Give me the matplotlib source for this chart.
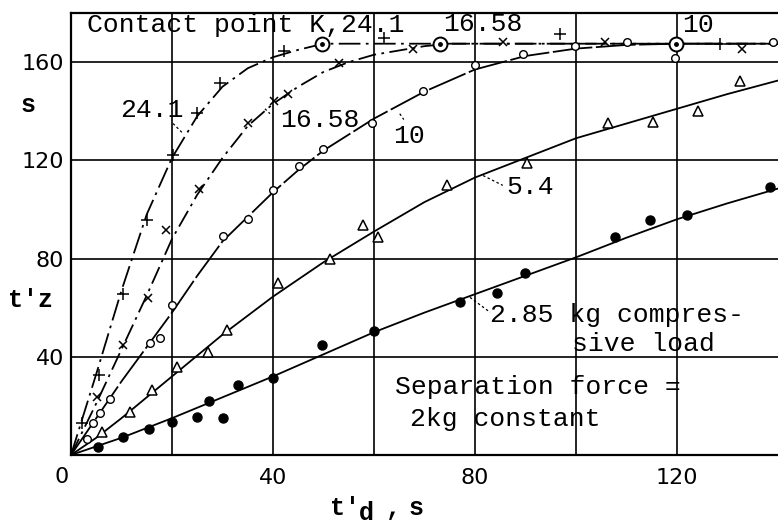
import matplotlib
matplotlib.use("Agg")
import matplotlib.pyplot as plt

plus_x = [2.2, 5.5, 10.3, 15.0, 20.2, 25.0, 29.5, 42.2, 62.0, 96.8, 128.5]
plus_y = [13, 32.5, 65.4, 95.5, 122, 139.4, 151.6, 164.6, 170, 171.5, 167.5]

cross_x = [5.1, 10.3, 15.2, 18.8, 25.3, 35.0, 40.2, 43.0, 53.0, 67.7, 85.5, 105.7, 132.9]
cross_y = [23.6, 44.7, 63.8, 91.5, 108.5, 135.4, 144.3, 147.2, 159.8, 165.4, 168.0, 168.3, 165.4]

circ_x = [3.2, 4.4, 5.7, 7.7, 15.6, 17.6, 20.0, 30.0, 35.0, 40.0, 45.1, 49.9, 59.6,
          69.7, 80.0, 89.5, 99.8, 110.0, 119.6, 139.0]
circ_y = [6.5, 13, 17, 23, 45.5, 47.6, 61, 89, 96.3, 108, 117.5, 124.8, 135.4,
          148.4, 159, 163.4, 166.7, 168, 161.8, 168]

tri_x = [6.1, 11.7, 16.0, 21.0, 27.1, 30.9, 41.0, 51.3, 57.8, 60.8, 74.5, 90.3, 106.3, 115.2, 124.2, 132.5]
tri_y = [9.3, 17.5, 26.4, 35.8, 41.9, 50.8, 69.9, 80.0, 93.5, 88.6, 109.8, 119.1, 135.4, 135.8, 140.2, 152.4]

dot_x = [5.3, 10.3, 15.4, 20.0, 24.9, 27.3, 30.1, 33.0, 40.0, 49.7, 60.0, 77.0, 84.3, 89.9,
         107.7, 114.7, 122.0, 138.4]
dot_y = [3.3, 7.3, 10.6, 13.4, 15.4, 22.0, 15.0, 28.5, 31.3, 44.7, 50.4, 62.2, 65.9, 74.0,
         88.6, 95.9, 97.6, 109.0]

# contact points K
k_x = [49.7, 73.0, 119.8]
k_y = [167.5, 167.5, 167.5]

# faired curves
c241_x = [0, 5, 10, 15, 20, 25, 30, 35, 40, 45, 50, 140]
c241_y = [0, 33, 67, 98, 121, 138, 150, 157.5, 162, 165, 167.5, 167.5]

c1658_x = [0, 5, 10, 15, 20, 25, 30, 35, 40, 45, 50, 55, 60, 70, 75, 140]
c1658_y = [0, 21, 43, 65, 88, 106, 121, 134, 143, 150, 156, 160, 163, 166.5, 167.5, 167.5]

c10_x = [0, 5, 10, 15, 20, 25, 30, 35, 40, 45, 50, 60, 70, 80, 90, 100, 110, 120, 140]
c10_y = [0, 15, 30, 44, 58, 73, 87, 97, 107, 116, 124, 137, 148, 157, 162.5, 165.5, 167, 167.5, 167.5]

c54_x = [0, 5, 10, 20, 30, 40, 50, 60, 70, 80, 90, 100, 110, 120, 130, 140]
c54_y = [0, 7, 15, 32, 49, 64.5, 78.5, 91, 103, 113, 121, 129, 135, 141, 147, 152.5]

c285_x = [0, 10, 20, 30, 40, 50, 60, 70, 80, 90, 100, 110, 120, 130, 140]
c285_y = [0, 7, 15, 23.5, 32, 41, 50, 58, 65.5, 73, 80.5, 88.5, 96, 102.5, 108.5]

xticks = [40, 80, 120]
yticks = [40, 80, 120, 160]

W, H = 778, 526
fig = plt.figure(figsize=(W / 100, H / 100), dpi=100)
ax = fig.add_axes([71 / W, 1 - 455 / H, (W - 71) / W, (455 - 13) / H])
ax.set_xlim(0, 140)
ax.set_ylim(0, 180)

for x in [20, 40, 60, 80, 100, 120]:
    ax.axvline(x, color="black", lw=1.2, zorder=1)
for y in yticks:
    ax.axhline(y, color="black", lw=1.2, zorder=1)

lw = 1.3
ax.plot(c241_x, c241_y, color="black", lw=lw, dashes=(12, 3, 1.5, 3), zorder=2)
ax.plot(c1658_x, c1658_y, color="black", lw=lw, dashes=(10, 3, 1.5, 3), zorder=2)
ax.plot(c10_x, c10_y, color="black", lw=lw, dashes=(22, 2), zorder=2)
ax.plot(c54_x, c54_y, color="black", lw=lw, zorder=2)
ax.plot(c285_x, c285_y, color="black", lw=lw, zorder=2)

ax.plot(plus_x, plus_y, "+", color="black", ms=8, mew=1.1, zorder=3)
ax.plot(cross_x, cross_y, "x", color="black", ms=5.5, mew=1.1, zorder=3)
ax.plot(circ_x, circ_y, "o", mfc="white", mec="black", ms=5.5, mew=1.0, zorder=3)
ax.plot(tri_x, tri_y, "^", mfc="white", mec="black", ms=7, mew=1.1, zorder=3)
ax.plot(dot_x, dot_y, "o", color="black", ms=6.5, zorder=3)
ax.plot(k_x, k_y, "o", mfc="white", mec="black", ms=10, mew=1.4, zorder=4)
ax.plot(k_x, k_y, "o", color="black", ms=2.5, zorder=5)

for s in ["left", "bottom", "top"]:
    ax.spines[s].set_linewidth(1.6)
ax.spines["right"].set_visible(False)
ax.set_xticks(xticks)
ax.set_yticks(yticks)
ax.tick_params(length=0, labelsize=16, pad=9, axis="x")
ax.tick_params(length=0, labelsize=16, pad=5, axis="y")

mono = dict(family="Liberation Mono", fontsize=19, color="black")
ax.text(3.2, 175, "Contact point K,24.1", va="center", **mono)
ax.text(73.7, 175.5, "16.58", va="center", **mono)
ax.text(121, 175, "10", va="center", **mono)
ax.text(9.7, 140.6, "24.1", va="center", **mono)
ax.text(41.4, 136.6, "16.58", va="center", **mono)
ax.text(63.8, 130, "10", va="center", **mono)
ax.text(86.3, 109.3, "5.4", va="center", **mono)
ax.text(83, 56.9, "2.85 kg compres-", va="center", **mono)
ax.text(99.2, 45.1, "sive load", va="center", **mono)
ax.text(64.2, 27.6, "Separation force =", va="center", **mono)
ax.text(67.1, 14.6, "2kg constant", va="center", **mono)

# short leader ticks from labels to curves
leaders = [((20.2, 135), (22.2, 130.9)), ((38.4, 141), (39.4, 139)),
           ((65.1, 139), (65.9, 136.6)), ((81.6, 113.8), (85.5, 109.8)),
           ((79, 64.2), (83, 58.1))]
for a, b in leaders:
    ax.plot([a[0], b[0]], [a[1], b[1]], color="black", lw=0.9, ls=(0, (2, 2)), zorder=2)

fig.text(62 / W, 1 - 477 / H, "0", ha="center", va="center", fontsize=16)

lab = dict(family="Liberation Mono", fontsize=18, weight="bold", color="black")
fig.text(28 / W, 1 - 105 / H, "s", ha="center", va="center", **lab)
fig.text(30 / W, 1 - 300 / H, "t'z", ha="center", va="center", **lab)
fig.text(330 / W, 1 - 508 / H, "t'", ha="left", va="center", **lab)
fig.text(359 / W, 1 - 513 / H, "d", ha="left", va="center", **lab)
fig.text(386 / W, 1 - 508 / H, ",", ha="left", va="center", **lab)
fig.text(409 / W, 1 - 508 / H, "s", ha="left", va="center", **lab)

fig.savefig("out.png", dpi=100)
